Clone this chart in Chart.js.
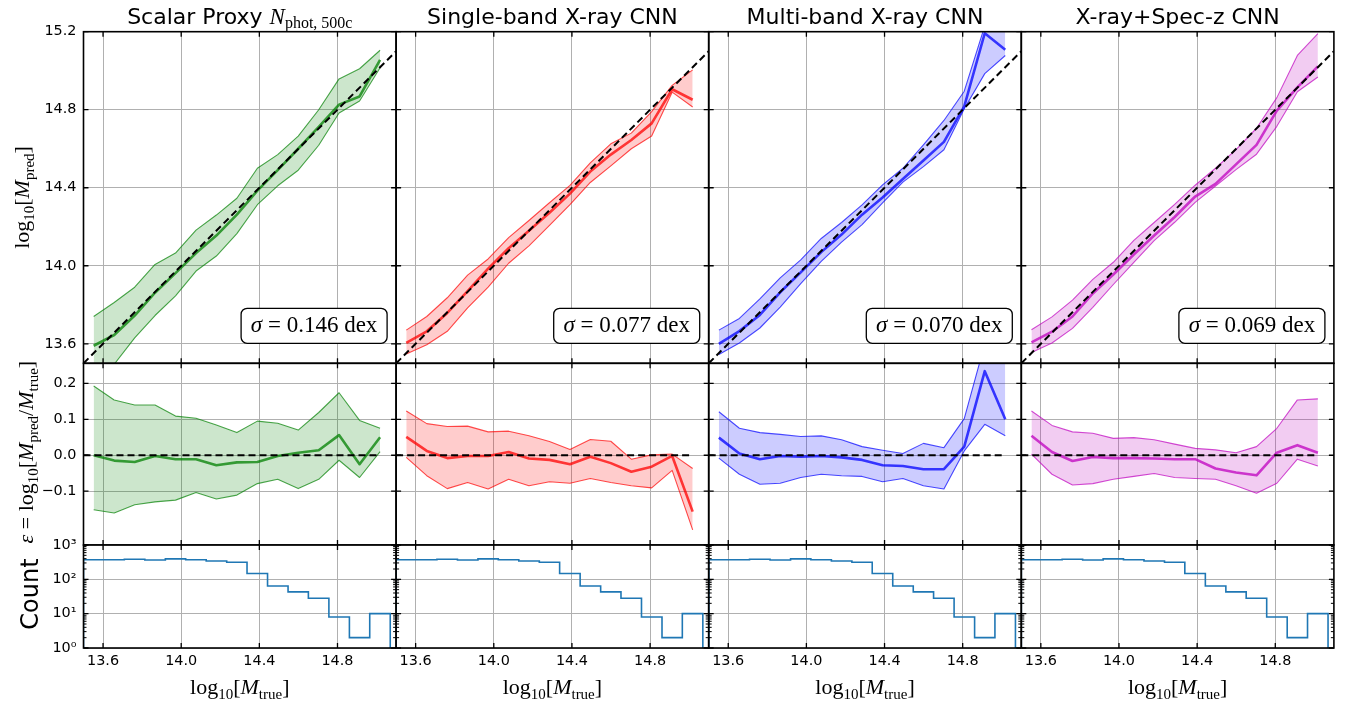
<!DOCTYPE html>
<html>
<head>
<meta charset="utf-8">
<script src="https://cdn.jsdelivr.net/npm/chart.js"></script>
<style>
  html, body { margin: 0; padding: 0; background: #fff; }
  #wrap { position: relative; width: 1347px; height: 701px; }
  #wrap canvas { position: absolute; left: 0; top: 0; }
</style>
</head>
<body>
<div id="wrap"></div>
<script>
// mass bins, log10 M_true
const binCenters = [13.552, 13.657, 13.762, 13.866, 13.971, 14.076, 14.180, 14.285, 14.390, 14.494, 14.599, 14.704, 14.808, 14.913, 15.018];
const binEdges = [13.5, 13.605, 13.709, 13.814, 13.919, 14.023, 14.128, 14.233, 14.337, 14.442, 14.547, 14.651, 14.756, 14.861, 14.965, 15.07];
const counts = [373, 373, 385, 365, 395, 373, 341, 313, 148, 64, 43, 28, 8, 2, 10];

const modelTitles = ['Scalar Proxy', 'Single-band X-ray CNN', 'Multi-band X-ray CNN', 'X-ray+Spec-z CNN'];
const sigmaValues = ['0.146', '0.077', '0.070', '0.069'];

// predicted mass: median and 16/84 percentiles
const predMedScalar = [13.590, 13.645, 13.745, 13.862, 13.962, 14.065, 14.155, 14.262, 14.385, 14.490, 14.600, 14.712, 14.826, 14.868, 15.055];
const predLoScalar  = [13.400, 13.495, 13.630, 13.745, 13.846, 13.973, 14.050, 14.165, 14.313, 14.410, 14.490, 14.618, 14.783, 14.845, 15.015];
const predHiScalar  = [13.740, 13.812, 13.890, 14.007, 14.065, 14.183, 14.260, 14.346, 14.500, 14.570, 14.665, 14.800, 14.958, 15.010, 15.105];

const predMedSingle = [13.605, 13.664, 13.758, 13.870, 13.985, 14.090, 14.180, 14.272, 14.370, 14.483, 14.570, 14.645, 14.730, 14.905, 14.851];
const predLoSingle  = [13.548, 13.595, 13.664, 13.784, 13.890, 14.013, 14.102, 14.207, 14.313, 14.427, 14.512, 14.600, 14.665, 14.890, 14.814];
const predHiSingle  = [13.670, 13.740, 13.836, 13.952, 14.035, 14.144, 14.232, 14.323, 14.412, 14.528, 14.625, 14.680, 14.790, 14.925, 15.004];

const predMedMulti = [13.600, 13.665, 13.748, 13.864, 13.966, 14.070, 14.160, 14.262, 14.350, 14.445, 14.540, 14.635, 14.817, 15.192, 15.107];
const predLoMulti  = [13.545, 13.604, 13.681, 13.788, 13.909, 14.023, 14.121, 14.211, 14.323, 14.429, 14.508, 14.595, 14.805, 14.985, 15.078];
const predHiMulti  = [13.670, 13.730, 13.830, 13.938, 14.030, 14.140, 14.222, 14.312, 14.415, 14.500, 14.620, 14.745, 14.895, 15.230, 15.320];

const predMedSpec = [13.607, 13.662, 13.740, 13.858, 13.955, 14.058, 14.155, 14.250, 14.355, 14.420, 14.520, 14.620, 14.795, 14.915, 15.022];
const predLoSpec  = [13.555, 13.604, 13.679, 13.787, 13.904, 14.017, 14.129, 14.223, 14.325, 14.409, 14.493, 14.572, 14.715, 14.892, 14.968];
const predHiSpec  = [13.672, 13.738, 13.824, 13.930, 14.018, 14.130, 14.222, 14.315, 14.413, 14.500, 14.595, 14.705, 14.862, 15.078, 15.190];

// residual log10(M_pred / M_true): median and 16/84 percentiles
const resMedScalar = [0.000, -0.015, -0.019, -0.002, -0.011, -0.011, -0.028, -0.020, -0.019, -0.002, 0.007, 0.014, 0.056, -0.025, 0.050];
const resLoScalar  = [-0.152, -0.161, -0.138, -0.130, -0.125, -0.104, -0.122, -0.111, -0.079, -0.067, -0.093, -0.067, -0.014, -0.062, 0.010];
const resHiScalar  = [0.193, 0.154, 0.140, 0.140, 0.109, 0.103, 0.084, 0.063, 0.095, 0.089, 0.070, 0.119, 0.174, 0.097, 0.075];

const resMedSingle = [0.051, 0.012, -0.008, -0.002, -0.002, 0.009, -0.009, -0.013, -0.025, -0.004, -0.022, -0.046, -0.032, -0.002, -0.157];
const resLoSingle  = [-0.006, -0.057, -0.093, -0.076, -0.094, -0.067, -0.085, -0.074, -0.078, -0.065, -0.076, -0.085, -0.091, -0.042, -0.208];
const resHiSingle  = [0.123, 0.088, 0.080, 0.081, 0.065, 0.067, 0.054, 0.038, 0.016, 0.044, 0.039, -0.011, 0.001, 0.003, -0.037];

const resMedMulti = [0.049, 0.005, -0.011, -0.002, -0.004, -0.002, -0.006, -0.013, -0.028, -0.030, -0.039, -0.039, 0.024, 0.234, 0.100];
const resLoMulti  = [-0.008, -0.053, -0.081, -0.078, -0.062, -0.053, -0.057, -0.059, -0.074, -0.065, -0.085, -0.094, 0.012, 0.086, 0.054];
const resHiMulti  = [0.121, 0.075, 0.063, 0.058, 0.052, 0.054, 0.043, 0.024, 0.014, 0.005, 0.033, 0.021, 0.102, 0.310, 0.300];

const resMedSpec = [0.054, 0.009, -0.016, -0.005, -0.008, -0.008, -0.009, -0.011, -0.011, -0.037, -0.048, -0.056, 0.007, 0.028, 0.007];
const resLoSpec  = [0.003, -0.053, -0.083, -0.079, -0.067, -0.059, -0.051, -0.062, -0.065, -0.067, -0.085, -0.106, -0.078, -0.011, -0.030];
const resHiSpec  = [0.123, 0.083, 0.065, 0.061, 0.047, 0.049, 0.043, 0.031, 0.019, 0.015, 0.007, 0.024, 0.075, 0.154, 0.157];

// reference lines
const diagX = [13.5, 15.1];
const diagY = [13.5, 15.1];
const zeroX = [13.5, 15.02];
const zeroY = [0, 0];

// ticks
const xTicks = [13.6, 14.0, 14.4, 14.8];
const xTickLabels = ['13.6', '14.0', '14.4', '14.8'];
const predTicks = [13.6, 14.0, 14.4, 14.8, 15.2];
const predTickLabels = ['13.6', '14.0', '14.4', '14.8', '15.2'];
const resTicks = [-0.1, 0.0, 0.1, 0.2];
const resTickLabels = ['\u22120.1', '0.0', '0.1', '0.2'];
const countTicks = [1, 10, 100, 1000];
const countTickLabels = ['10\u2070', '10\u00b9', '10\u00b2', '10\u00b3'];
const countMinor = [2,3,4,5,6,7,8,9,20,30,40,50,60,70,80,90,200,300,400,500,600,700,800,900];

const predMed = [predMedScalar, predMedSingle, predMedMulti, predMedSpec];
const predLo = [predLoScalar, predLoSingle, predLoMulti, predLoSpec];
const predHi = [predHiScalar, predHiSingle, predHiMulti, predHiSpec];
const resMed = [resMedScalar, resMedSingle, resMedMulti, resMedSpec];
const resLo = [resLoScalar, resLoSingle, resLoMulti, resLoSpec];
const resHi = [resHiScalar, resHiSingle, resHiMulti, resHiSpec];

// layout (px)
const colX = [83.5, 396.1, 708.7, 1021.3];
const colW = 312.6;
const rowY = [31.7, 363.3, 545, 648];
const modelRgb = ['0,128,0', '255,0,0', '0,0,255', '191,0,191'];

const SANS = "'DejaVu Sans', sans-serif";
const SERIF = "'Liberation Serif', serif";
const mr = s => `${s}px ${SERIF}`;
const mi = s => `italic ${s}px ${SERIF}`;

function runsWidth(ctx, runs) {
  let w = 0;
  runs.forEach(r => { ctx.font = r.f; w += ctx.measureText(r.t).width; });
  return w;
}
function drawRuns(ctx, runs, x, y) {
  let cx = x - runsWidth(ctx, runs) / 2;
  runs.forEach(r => {
    ctx.font = r.f;
    ctx.fillText(r.t, cx, y + (r.dy || 0));
    cx += ctx.measureText(r.t).width;
  });
}
function drawRunsRotated(ctx, runs, x, y) {
  ctx.save();
  ctx.translate(x, y);
  ctx.rotate(-Math.PI / 2);
  drawRuns(ctx, runs, 0, 0);
  ctx.restore();
}
const logLabel = sub => [
  {t: 'log', f: mr(22)}, {t: '10', f: mr(15), dy: 5}, {t: '[', f: mr(22)},
  {t: 'M', f: mi(22)}, {t: sub, f: mr(15), dy: 5}, {t: ']', f: mr(22)}
];

// force the axis box to a fixed size so the plot area lands exactly on the panel
const fixedFit = size => s => {
  if (s.isHorizontal()) s.height = size; else s.width = size;
  s.paddingLeft = 0; s.paddingRight = 0; s.paddingTop = 0; s.paddingBottom = 0;
};

const frameTicks = {
  id: 'frameTicks',
  afterDatasetsDraw(chart, args, opts) {
    const {ctx, chartArea: a, scales} = chart;
    ctx.save();
    ctx.strokeStyle = '#000';
    ctx.lineWidth = 1.3;
    ctx.beginPath();
    xTicks.forEach(v => {
      const px = scales.x.getPixelForValue(v);
      ctx.moveTo(px, a.bottom); ctx.lineTo(px, a.bottom - 5);
      ctx.moveTo(px, a.top); ctx.lineTo(px, a.top + 5);
    });
    opts.yMajor.forEach(v => {
      const py = scales.y.getPixelForValue(v);
      ctx.moveTo(a.left, py); ctx.lineTo(a.left + 5, py);
      ctx.moveTo(a.right, py); ctx.lineTo(a.right - 5, py);
    });
    ctx.stroke();
    if (opts.yMinor) {
      ctx.lineWidth = 1;
      ctx.beginPath();
      opts.yMinor.forEach(v => {
        const py = scales.y.getPixelForValue(v);
        ctx.moveTo(a.left, py); ctx.lineTo(a.left + 3, py);
        ctx.moveTo(a.right, py); ctx.lineTo(a.right - 3, py);
      });
      ctx.stroke();
    }
    ctx.lineWidth = 1.6;
    ctx.strokeRect(a.left, a.top, a.right - a.left, a.bottom - a.top);
    ctx.restore();
  },
  afterDraw(chart, args, opts) {
    const {ctx, chartArea: a} = chart;
    const {row, col} = opts;
    const cx = colX[col] + colW / 2;
    ctx.save();
    ctx.fillStyle = '#000';
    ctx.textBaseline = 'alphabetic';
    ctx.textAlign = 'left';
    if (row === 0) {
      // column title
      const title = col === 0
        ? [{t: 'Scalar Proxy ', f: `22px ${SANS}`}, {t: 'N', f: mi(23)}, {t: 'phot, 500c', f: mr(16), dy: 4}]
        : [{t: modelTitles[col], f: `22px ${SANS}`}];
      drawRuns(ctx, title, cx, 23.5);
      // sigma box
      const w = 146, h = 35, r = 6;
      const bx = a.right - 9 - w, by = a.bottom - 20 - h;
      ctx.beginPath();
      ctx.moveTo(bx + r, by);
      ctx.arcTo(bx + w, by, bx + w, by + h, r);
      ctx.arcTo(bx + w, by + h, bx, by + h, r);
      ctx.arcTo(bx, by + h, bx, by, r);
      ctx.arcTo(bx, by, bx + w, by, r);
      ctx.closePath();
      ctx.fillStyle = '#fff';
      ctx.fill();
      ctx.lineWidth = 1.3;
      ctx.strokeStyle = '#000';
      ctx.stroke();
      ctx.fillStyle = '#000';
      drawRuns(ctx, [{t: '\u03c3', f: mi(23)}, {t: ' = ', f: mr(23)}, {t: sigmaValues[col] + ' dex', f: mr(23)}], bx + w / 2, by + h - 11);
      if (col === 0) drawRunsRotated(ctx, logLabel('pred'), 29, (rowY[0] + rowY[1]) / 2);
    }
    if (row === 1 && col === 0) {
      const eps = [
        {t: '\u03b5', f: mi(22)}, {t: ' = ', f: mr(22)},
        {t: 'log', f: mr(22)}, {t: '10', f: mr(15), dy: 5}, {t: '[', f: mr(22)},
        {t: 'M', f: mi(22)}, {t: 'pred', f: mr(15), dy: 5}, {t: '/', f: mr(22)},
        {t: 'M', f: mi(22)}, {t: 'true', f: mr(15), dy: 5}, {t: ']', f: mr(22)}
      ];
      drawRunsRotated(ctx, eps, 33, (rowY[1] + rowY[2]) / 2 - 2);
    }
    if (row === 2) {
      if (col === 0) {
        ctx.save();
        ctx.translate(38, 594);
        ctx.rotate(-Math.PI / 2);
        ctx.font = `24px ${SANS}`;
        ctx.textAlign = 'center';
        ctx.fillText('Count', 0, 0);
        ctx.restore();
      }
      drawRuns(ctx, logLabel('true'), cx, 694);
    }
    ctx.restore();
  }
};

function line(xs, ys, color, width, extra) {
  return Object.assign({
    data: xs.map((x, i) => ({x, y: ys[i]})),
    borderColor: color, borderWidth: width, pointRadius: 0,
    fill: false, borderJoinStyle: 'round'
  }, extra || {});
}

function bandDatasets(col, med, lo, hi, refX, refY) {
  const rgb = modelRgb[col];
  return [
    line(refX, refY, '#000', 2, {borderDash: [7, 4]}),
    line(binCenters, med, `rgba(${rgb},0.75)`, 2.6),
    line(binCenters, lo, `rgba(${rgb},0.7)`, 1.1),
    line(binCenters, hi, `rgba(${rgb},0.7)`, 1.1, {fill: '-1', backgroundColor: `rgba(${rgb},0.2)`})
  ];
}

function histDataset() {
  const floor = 0.1;
  const pts = [{x: binEdges[0], y: floor}]
    .concat(counts.map((c, i) => ({x: binEdges[i], y: c})))
    .concat([{x: binEdges[binEdges.length - 1], y: counts[counts.length - 1]}, {x: binEdges[binEdges.length - 1], y: floor}]);
  return [{data: pts, borderColor: '#1f77b4', borderWidth: 1.6, pointRadius: 0, fill: false, stepped: 'before'}];
}

const wrap = document.getElementById('wrap');

function makePanel(row, col) {
  const cv = document.createElement('canvas');
  cv.width = 1347; cv.height = 701;
  wrap.appendChild(cv);

  const left = colX[col], right = colX[col] + colW;
  const top = rowY[row], bottom = rowY[row + 1];
  const tickFont = {family: 'DejaVu Sans', size: 14.4};
  const yBox = col === 0 ? left : 0;          // room for y tick labels
  const xBox = row === 2 ? 701 - bottom : 0;  // room for x tick labels

  let datasets, yScale, yMajor, yMinor = null;
  if (row === 0) {
    datasets = bandDatasets(col, predMed[col], predLo[col], predHi[col], diagX, diagY);
    yMajor = predTicks;
    yScale = {type: 'linear', min: 13.5, max: 15.2, tickVals: predTicks, tickLabels: predTickLabels};
  } else if (row === 1) {
    datasets = bandDatasets(col, resMed[col], resLo[col], resHi[col], zeroX, zeroY);
    yMajor = resTicks;
    yScale = {type: 'linear', min: -0.25, max: 0.256, tickVals: resTicks, tickLabels: resTickLabels};
  } else {
    datasets = histDataset();
    yMajor = countTicks;
    yMinor = countMinor;
    yScale = {type: 'logarithmic', min: 1, max: 1000, tickVals: countTicks, tickLabels: countTickLabels};
  }

  new Chart(cv, {
    type: 'line',
    data: {datasets},
    options: {
      responsive: false,
      animation: false,
      devicePixelRatio: 1,
      layout: {padding: {left: left - yBox, top, right: 1347 - right, bottom: 701 - bottom - xBox}},
      plugins: {
        legend: {display: false},
        tooltip: {enabled: false},
        frameTicks: {row, col, yMajor, yMinor}
      },
      scales: {
        x: {
          type: 'linear', min: 13.5, max: 15.1,
          afterBuildTicks: s => { s.ticks = xTicks.map(v => ({value: v})); },
          afterFit: fixedFit(xBox),
          grid: {color: '#b0b0b0', lineWidth: 1, drawTicks: false},
          border: {display: false},
          ticks: {
            display: row === 2, autoSkip: false, maxRotation: 0, minRotation: 0, padding: 5,
            color: '#000', font: tickFont,
            callback: (v, i) => xTickLabels[i]
          }
        },
        y: {
          type: yScale.type, min: yScale.min, max: yScale.max,
          afterBuildTicks: s => { s.ticks = yScale.tickVals.map(v => ({value: v})); },
          afterFit: fixedFit(yBox),
          grid: {color: '#b0b0b0', lineWidth: 1, drawTicks: false},
          border: {display: false},
          ticks: {
            display: col === 0, autoSkip: false, padding: 7,
            color: '#000', font: tickFont,
            callback: (v, i) => yScale.tickLabels[i]
          }
        }
      }
    },
    plugins: [frameTicks]
  });
}

for (let row = 0; row < 3; row++) {
  for (let col = 0; col < 4; col++) makePanel(row, col);
}
</script>
</body>
</html>
